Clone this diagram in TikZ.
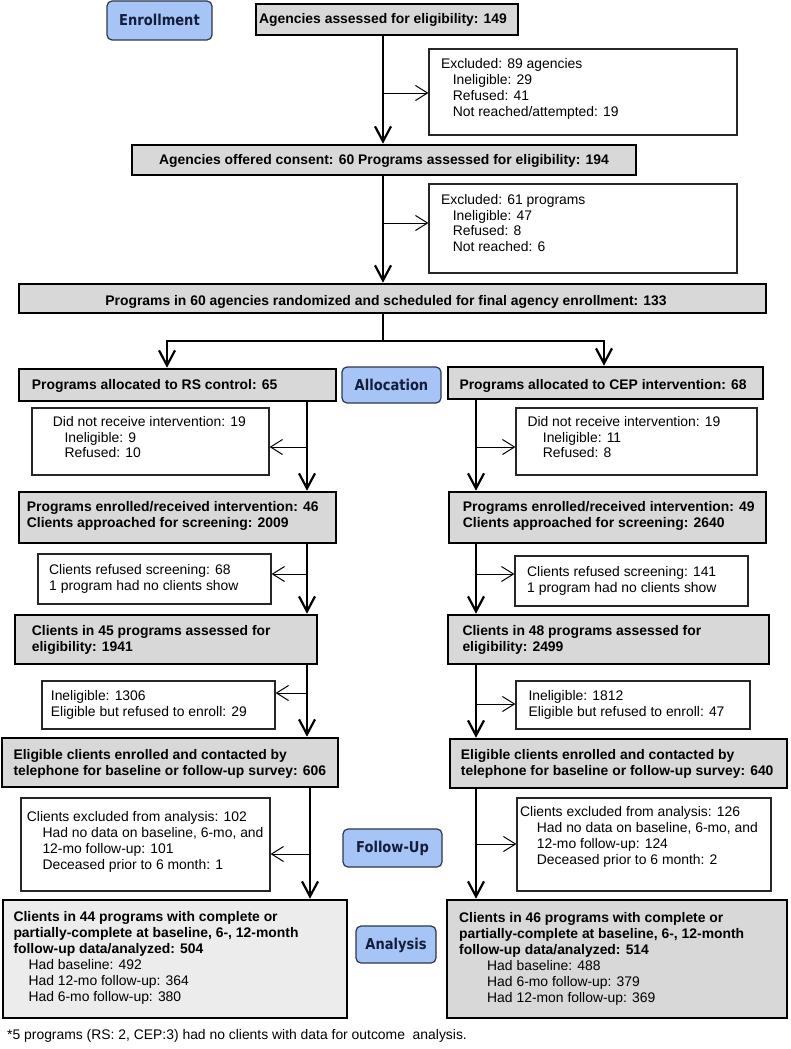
\documentclass[tikz,border=0pt]{standalone}
\usepackage{fontspec}
\setmainfont{Liberation Sans}
\newfontfamily\stagefam[FakeStretch=0.87]{DejaVu Sans Bold}
\usetikzlibrary{arrows.meta}
\usetikzlibrary{fit}
\usetikzlibrary{calc}

\definecolor{boxgray}{RGB}{216,216,216}
\definecolor{palegray}{RGB}{236,236,236}
\definecolor{stagefill}{RGB}{166,196,245}
\definecolor{stageline}{RGB}{45,55,75}
\definecolor{stagetext}{RGB}{20,30,60}

\newcommand{\regfont}{\fontsize{13.9pt}{15.8pt}\selectfont}
\newcommand{\boldfont}{\fontsize{13.9pt}{16pt}\selectfont\bfseries}
\newcommand{\ind}[1]{\hspace*{#1pt}}

\begin{document}
\begin{tikzpicture}[
  x=1pt, y=-1pt,
  mainbox/.style={draw=black, fill=boxgray, line width=2.6pt, inner sep=0pt},
  exclbox/.style={draw=black!85, fill=white, line width=1.2pt, inner sep=0pt},
  stage/.style={draw=stageline, fill=stagefill, line width=1.2pt, rounded corners=5pt, inner sep=0pt},
  stagetxt/.style={anchor=base, inner sep=0pt, text=stagetext,
    font=\stagefam\fontsize{15pt}{15pt}\selectfont},
  txt/.style={anchor=north west, inner sep=0pt, align=left, font=\regfont},
  btxt/.style={txt, font=\boldfont},
  headtxt/.style={anchor=base, inner sep=0pt, font=\boldfont},
  flow/.style={line width=2.2pt, -{Straight Barb[length=15pt,width=16pt]}},
  side/.style={line width=1pt, -{Straight Barb[length=12pt,width=15pt]}},
  ]

  \useasboundingbox (0,0) rectangle (790,1049);

  % Stage labels
  \node[stage, fit={(107,1) (212,40)}]    (enroll)   {};
  \node[stage, fit={(342,367) (441,403)}] (alloc)    {};
  \node[stage, fit={(343,829) (442,867)}] (follow)   {};
  \node[stage, fit={(356,926) (436,963)}] (analysis) {};
  \node[stagetxt] (enrollt)   at ($(enroll.center)+(0,5)$)   {Enrollment};
  \node[stagetxt] (alloct)    at ($(alloc.center)+(0,5.5)$)  {Allocation};
  \node[stagetxt] (followt)   at ($(follow.center)+(0,4.5)$) {Follow-Up};
  \node[stagetxt] (analysist) at ($(analysis.center)+(0,5)$) {Analysis};

  % Enrollment part
  \node[mainbox, fit={(256,4) (518,35)}]    (agen)  {};
  \node[exclbox, fit={(429,49) (737,135)}]  (ex1)   {};
  \node[mainbox, fit={(132,145) (636,175)}] (offer) {};
  \node[exclbox, fit={(429,184) (737,273)}] (ex2)   {};
  \node[mainbox, fit={(19,284) (766,313)}]  (rand)  {};

  \node[headtxt] (agent)  at (383,23.5) {Agencies assessed for eligibility: 149};
  \node[headtxt] (offert) at (384,164.5) {Agencies offered consent: 60 Programs assessed for eligibility: 194};
  \node[headtxt] (randt)  at (386,305) {Programs in 60 agencies randomized and scheduled for final agency enrollment: 133};

  \node[txt] (ex1t) at (441,58.5) {Excluded: 89 agencies\\\ind{11.6}Ineligible: 29\\\ind{11.6}Refused: 41\\\ind{11.6}Not reached/attempted: 19};
  \node[txt] (ex2t) at (441,194) {Excluded: 61 programs\\\ind{11.6}Ineligible: 47\\\ind{11.6}Refused: 8\\\ind{11.6}Not reached: 6};

  % RS control (left)
  \node[mainbox, fit={(19,369) (336,401)}]   (rs)  {};
  \node[exclbox, fit={(32,408) (269,475)}]   (dnl) {};
  \node[mainbox, fit={(19,492) (336,543)}]   (enl) {};
  \node[exclbox, fit={(38,554) (271,604)}]   (rfl) {};
  \node[mainbox, fit={(15,615) (317,664)}]   (asl) {};
  \node[exclbox, fit={(42,681) (275,729)}]   (inl) {};
  \node[mainbox, fit={(2,738) (338,787)}]    (ell) {};
  \node[exclbox, fit={(21,798) (270,891)}]   (exl) {};
  \node[mainbox, fill=palegray, fit={(3,900) (347,1018)}] (fnl) {};

  % CEP intervention (right)
  \node[mainbox, fit={(448,367) (763,399)}]  (cep) {};
  \node[exclbox, fit={(516,408) (757,475)}]  (dnr) {};
  \node[mainbox, fit={(449,492) (766,543)}]  (enr) {};
  \node[exclbox, fit={(515,556) (748,606)}]  (rfr) {};
  \node[mainbox, fit={(448,615) (769,664)}]  (asr) {};
  \node[exclbox, fit={(516,681) (750,729)}]  (inr) {};
  \node[mainbox, fit={(450,739) (787,788)}]  (elr) {};
  \node[exclbox, fit={(517,798) (771,891)}]  (exr) {};
  \node[mainbox, fit={(447,900) (787,1018)}] (fnr) {};

  % Texts left
  \node[headtxt, anchor=base west] (rst) at (31.7,389) {Programs allocated to RS control: 65};
  \node[txt] (dnlt) at (52.7,416) {Did not receive intervention: 19\\\ind{11.6}Ineligible: 9\\\ind{11.6}Refused: 10};
  \node[btxt] (enlt) at (26.7,501.7) {Programs enrolled/received intervention: 46\\Clients approached for screening: 2009};
  \node[txt] (rflt) at (49,564.5) {Clients refused screening: 68\\1 program had no clients show};
  \node[btxt] (aslt) at (31.7,625.7) {Clients in 45 programs assessed for\\eligibility: 1941};
  \node[txt] (inlt) at (50.7,690.5) {Ineligible: 1306\\Eligible but refused to enroll: 29};
  \node[btxt] (ellt) at (13.3,749.3) {Eligible clients enrolled and contacted by\\telephone for baseline or follow-up survey: 606};
  \node[txt] (exlt) at (26.7,811.5) {Clients excluded from analysis: 102\\\ind{15.6}Had no data on baseline, 6-mo, and\\\ind{15.6}12-mo follow-up: 101\\\ind{15.6}Deceased prior to 6 month: 1};
  \node[txt, font=\fontsize{13.9pt}{16pt}\selectfont] (fnlt) at (13.3,911.5) {{\bfseries Clients in 44 programs with complete or}\\{\bfseries partially-complete at baseline, 6-, 12-month}\\{\bfseries follow-up data/analyzed: 504}\\\ind{15}Had baseline: 492\\\ind{15}Had 12-mo follow-up: 364\\\ind{15}Had 6-mo follow-up: 380};

  % Texts right
  \node[headtxt, anchor=base west] (cept) at (459.3,389) {Programs allocated to CEP intervention: 68};
  \node[txt] (dnrt) at (527.3,416) {Did not receive intervention: 19\\\ind{15.4}Ineligible: 11\\\ind{15.4}Refused: 8};
  \node[btxt] (enrt) at (462.7,501.7) {Programs enrolled/received intervention: 49\\Clients approached for screening: 2640};
  \node[txt] (rfrt) at (527,566) {Clients refused screening: 141\\1 program had no clients show};
  \node[btxt] (asrt) at (462.3,625.7) {Clients in 48 programs assessed for\\eligibility: 2499};
  \node[txt] (inrt) at (528.3,690.5) {Ineligible: 1812\\Eligible but refused to enroll: 47};
  \node[btxt] (elrt) at (460.7,749.3) {Eligible clients enrolled and contacted by\\telephone for baseline or follow-up survey: 640};
  \node[txt] (exrt) at (520,806.7) {Clients excluded from analysis: 126\\\ind{16.7}Had no data on baseline, 6-mo, and\\\ind{16.7}12-mo follow-up: 124\\\ind{16.7}Deceased prior to 6 month: 2};
  \node[txt, font=\fontsize{13.9pt}{16pt}\selectfont] (fnrt) at (459,912) {{\bfseries Clients in 46 programs with complete or}\\{\bfseries partially-complete at baseline, 6-, 12-month}\\{\bfseries follow-up data/analyzed: 514}\\\ind{28}Had baseline: 488\\\ind{28}Had 6-mo follow-up: 379\\\ind{28}Had 12-mon follow-up: 369};

  % Footnote
  \node[txt] (foot) at (7,1029.3) {*5 programs (RS: 2, CEP:3) had no clients with data for outcome\ \ analysis.};

  % Columns and branch points
  \coordinate (cM)  at (383,0);
  \coordinate (cL)  at (307,0);
  \coordinate (cLb) at (310,0);
  \coordinate (cR)  at (476,0);
  \coordinate (spL) at (167,341);
  \coordinate (spR) at (604,341);
  \coordinate (b1)  at (383,93);
  \coordinate (b2)  at (383,223);
  \coordinate (b3)  at (307,447);
  \coordinate (b4)  at (476,447);
  \coordinate (b5)  at (307,574);
  \coordinate (b6)  at (476,574);
  \coordinate (b7)  at (307,693);
  \coordinate (b8)  at (476,704);
  \coordinate (b9)  at (310,854);
  \coordinate (b10) at (476,844);

  % Main flow
  \draw[flow] (agen.south -| cM) -- (offer.north -| cM);
  \draw[flow] (offer.south -| cM) -- (rand.north -| cM);
  \draw[flow] (rand.south -| cM) |- (spL) -- (rs.north -| spL);
  \draw[flow] (cM |- spL) -- (spR) -- (cep.north -| spR);

  \draw[flow] (rs.south -| cL) -- (enl.north -| cL);
  \draw[flow] (enl.south -| cL) -- (asl.north -| cL);
  \draw[flow] (asl.south -| cL) -- (ell.north -| cL);
  \draw[flow] (ell.south -| cLb) -- (fnl.north -| cLb);

  \draw[flow] (cep.south -| cR) -- (enr.north -| cR);
  \draw[flow] (enr.south -| cR) -- (asr.north -| cR);
  \draw[flow] (asr.south -| cR) -- (elr.north -| cR);
  \draw[flow] (elr.south -| cR) -- (fnr.north -| cR);

  % Exclusions
  \draw[side] (b1)  -- (ex1.west |- b1);
  \draw[side] (b2)  -- (ex2.west |- b2);
  \draw[side] (b3)  -- (dnl.east |- b3);
  \draw[side] (b4)  -- (dnr.west |- b4);
  \draw[side] (b5)  -- (rfl.east |- b5);
  \draw[side] (b6)  -- (rfr.west |- b6);
  \draw[side] (b7)  -- (inl.east |- b7);
  \draw[side] (b8)  -- (inr.west |- b8);
  \draw[side] (b9)  -- (exl.east |- b9);
  \draw[side] (b10) -- (exr.west |- b10);

\end{tikzpicture}
\end{document}
